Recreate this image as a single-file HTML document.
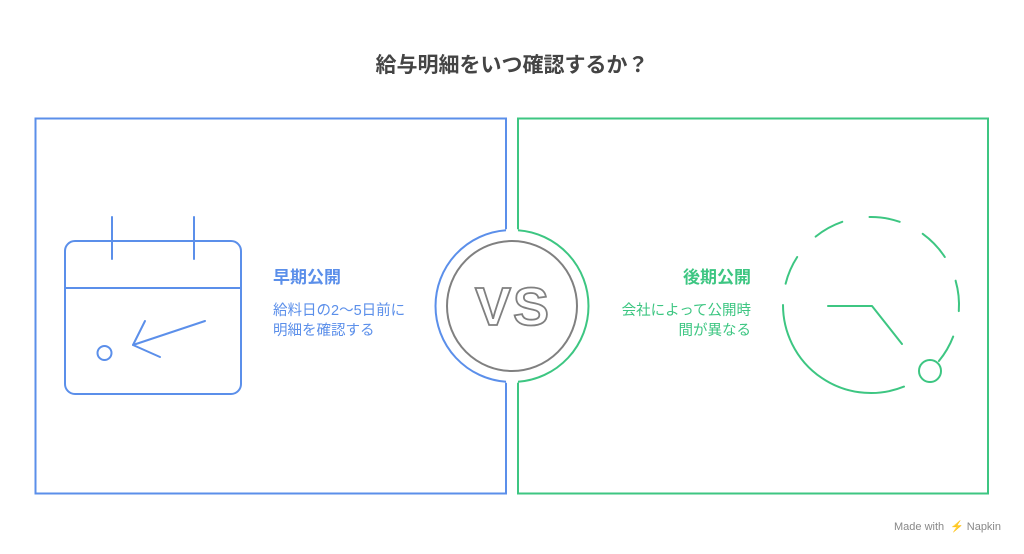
<!DOCTYPE html>
<html><head><meta charset="utf-8"><style>
html,body{margin:0;padding:0;background:#fff;}
svg{display:block;}
</style></head><body>
<svg width="1024" height="554" viewBox="0 0 1024 554" xmlns="http://www.w3.org/2000/svg" font-family="Liberation Sans, Noto Sans CJK JP, sans-serif">
<rect width="1024" height="554" fill="#fff"/>
<text x="512" y="72" text-anchor="middle" font-size="21" font-weight="bold" fill="#444">給与明細をいつ確認するか？</text>
<rect x="35.5" y="118.5" width="470.5" height="375" fill="none" stroke="#5B8FEA" stroke-width="2"/>
<rect x="518" y="118.5" width="470" height="375" fill="none" stroke="#3DC682" stroke-width="2"/>
<circle cx="512" cy="306" r="77" fill="#fff"/>
<path d="M506,230.2 A76,76 0 0 0 506,381.8" fill="none" stroke="#5B8FEA" stroke-width="2"/>
<path d="M518,230.2 A76,76 0 0 1 518,381.8" fill="none" stroke="#3DC682" stroke-width="2"/>
<circle cx="512" cy="306" r="65" fill="none" stroke="#808080" stroke-width="2"/>
<text x="513" y="325" text-anchor="middle" font-size="54" font-weight="bold" letter-spacing="2" fill="#fff" stroke="#808080" stroke-width="1.8">VS</text>
<g fill="none" stroke="#5B8FEA" stroke-width="2" stroke-linecap="round" stroke-linejoin="round">
<rect x="65" y="241" width="176" height="153" rx="10"/>
<line x1="65" y1="288" x2="241" y2="288"/>
<line x1="112" y1="217" x2="112" y2="259"/>
<line x1="194" y1="217" x2="194" y2="259"/>
<circle cx="104.5" cy="353" r="7"/>
<line x1="205" y1="321" x2="133" y2="345"/>
<polyline points="145,321 133,345 160,357"/>
</g>
<text x="273" y="283" font-size="17" font-weight="bold" fill="#5B8FEA">早期公開</text>
<text x="273" y="315" font-size="14.5" fill="#5B8FEA">給料日の2〜5日前に</text>
<text x="273" y="335" font-size="14.5" fill="#5B8FEA">明細を確認する</text>
<text x="751" y="283" text-anchor="end" font-size="17" font-weight="bold" fill="#3DC682">後期公開</text>
<text x="751" y="315" text-anchor="end" font-size="14.5" fill="#3DC682">会社によって公開時</text>
<text x="751" y="335" text-anchor="end" font-size="14.5" fill="#3DC682">間が異なる</text>
<g fill="none" stroke="#3DC682" stroke-width="2" stroke-linecap="round" stroke-linejoin="round">
<path d="M904,386.6 A88,88 0 0 1 783,305"/>
<path d="M953.2,336.5 A88,88 0 0 1 938.9,361"/>
<path d="M955.6,280.7 A88,88 0 0 1 958.8,311.1"/>
<path d="M922.7,233.8 A88,88 0 0 1 944.8,257"/>
<path d="M869.5,217 A88,88 0 0 1 899.7,221.8"/>
<path d="M815.6,236.6 A88,88 0 0 1 842.3,221.8"/>
<path d="M785.6,283.7 A88,88 0 0 1 797.2,257"/>
<circle cx="930" cy="371" r="11"/>
<polyline points="828,306 872,306 902,344"/>
</g>
<text x="894" y="530" font-size="11" fill="#888">Made with</text>
<text x="950" y="530" font-size="11" fill="#888">⚡ Napkin</text>
</svg>
</body></html>
